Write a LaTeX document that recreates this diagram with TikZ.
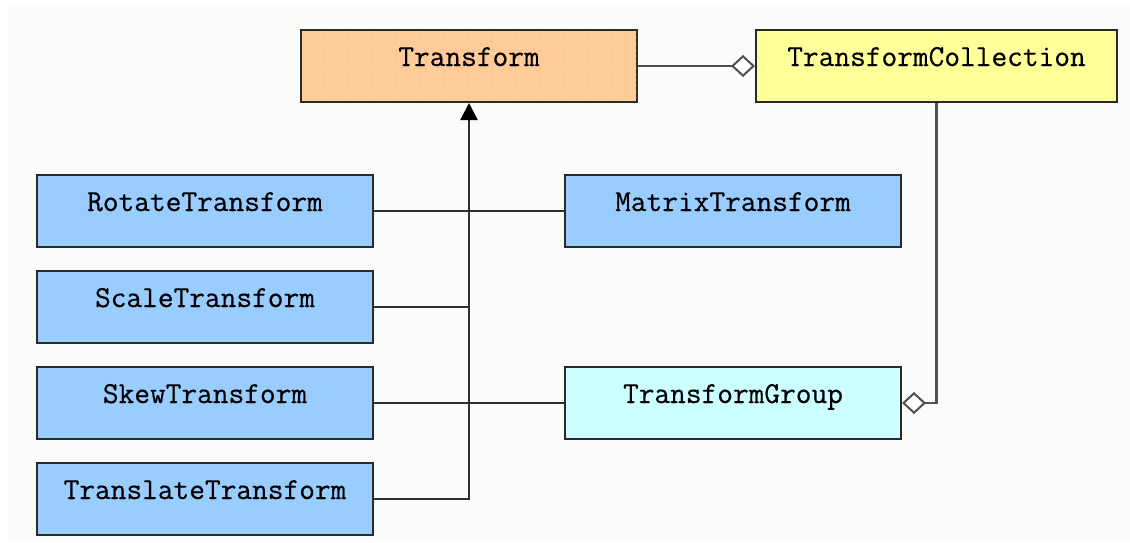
\documentclass[tikz,border=0pt]{standalone}
\usepackage{fontspec}
\setmonofont{Latin Modern Mono}[FakeBold=0.5]
\usetikzlibrary{patterns.meta, arrows.meta}
\definecolor{bg}{HTML}{FAFCFA}
\definecolor{orangefill}{HTML}{FFCC99}
\definecolor{dotcol}{HTML}{E6AE7A}
\definecolor{yellowfill}{HTML}{FFFF99}
\definecolor{bluefill}{HTML}{99CCFF}
\definecolor{cyanfill}{HTML}{CCFFFF}
\definecolor{boxline}{HTML}{2A2A2A}
\definecolor{connline}{HTML}{2E2E2E}
\definecolor{aggline}{HTML}{505050}
\begin{document}
\begin{tikzpicture}[x=1pt,y=-1pt,
  box/.style={draw=boxline, line width=2pt, minimum height=72pt, inner sep=0pt,
    text height=18pt, text depth=18pt, anchor=north west,
    font=\ttfamily\fontsize{30.5}{30.5}\selectfont},
  wide/.style={minimum width=336pt},
  conn/.style={draw=connline, line width=2.2pt},
  agg/.style={draw=aggline, line width=2.2pt,
    -{Diamond[open, fill=white, length=24pt, width=22pt, line width=2pt]}},
  inherit/.style={conn, -{Triangle[length=17pt, width=17pt, fill=black, color=black]}}
]
\useasboundingbox (0,0) rectangle (1130,542);
\fill[bg] (8,6) rectangle (1130,542);

\node[box, wide, fill=orangefill,
  postaction={pattern={Dots[distance=6pt, radius=0.7pt]}, pattern color=dotcol}]
  (T) at (300,29) {Transform};
\node[box, minimum width=361pt, fill=yellowfill] (TC) at (755,29) {TransformCollection};

\node[box, wide, fill=bluefill] (R) at (36,174) {RotateTransform};
\node[box, wide, fill=bluefill] (S) at (36,270) {ScaleTransform};
\node[box, wide, fill=bluefill] (K) at (36,366) {SkewTransform};
\node[box, wide, fill=bluefill] (L) at (36,462) {TranslateTransform};
\node[box, wide, fill=bluefill] (M) at (564,174) {MatrixTransform};
\node[box, wide, fill=cyanfill] (G) at (564,366) {TransformGroup};

\draw[conn] (R.east) -- (M.west);
\draw[conn] (K.east) -- (G.west);
\draw[conn] (S.east) -- (S.east -| T.south);
\draw[inherit] (L.east) -| (T.south);

\draw[agg] (T.east) -- (TC.west);
\draw[agg] (TC.south) |- (G.east);
\end{tikzpicture}
\end{document}
